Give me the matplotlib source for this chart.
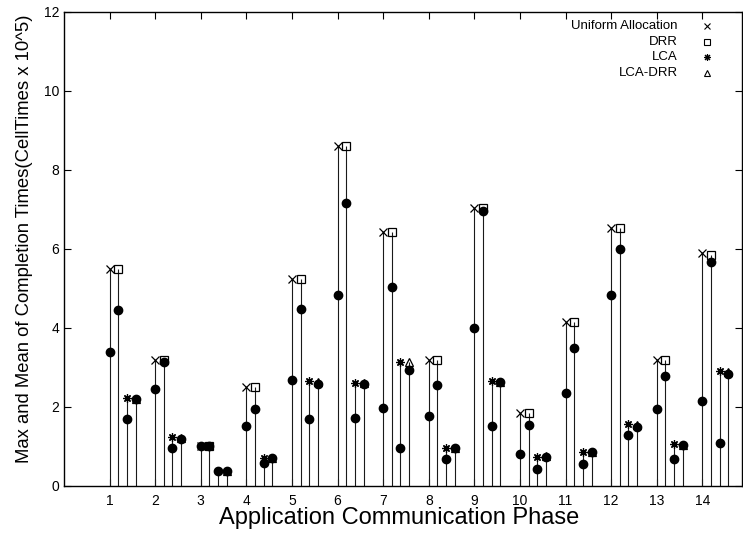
import matplotlib
matplotlib.use("Agg")
import matplotlib.pyplot as plt
import numpy as np

plt.rcParams["font.family"] = ["Liberation Sans", "DejaVu Sans"]

phases = np.arange(1, 15)
series = ["Uniform Allocation", "DRR", "LCA", "LCA-DRR"]

uniform_max = [5.50, 3.20, 1.00, 2.51, 5.25, 8.60, 6.42, 3.20, 7.05, 1.86, 4.16, 6.52, 3.20, 5.90]
uniform_mean = [3.40, 2.46, 1.00, 1.53, 2.68, 4.84, 1.97, 1.76, 4.00, 0.81, 2.36, 4.83, 1.95, 2.15]
drr_max = [5.50, 3.20, 1.00, 2.51, 5.25, 8.60, 6.42, 3.20, 7.05, 1.86, 4.16, 6.52, 3.20, 5.86]
drr_mean = [4.46, 3.15, 1.00, 1.96, 4.48, 7.16, 5.05, 2.56, 6.97, 1.55, 3.50, 5.99, 2.79, 5.68]
lca_max = [2.22, 1.23, 0.39, 0.72, 2.65, 2.62, 3.13, 0.95, 2.66, 0.74, 0.86, 1.56, 1.06, 2.90]
lca_mean = [1.69, 0.95, 0.38, 0.57, 1.69, 1.71, 0.95, 0.68, 1.52, 0.44, 0.55, 1.29, 0.68, 1.10]
lcadrr_max = [2.21, 1.21, 0.39, 0.72, 2.64, 2.60, 3.14, 0.96, 2.64, 0.75, 0.86, 1.55, 1.05, 2.88]
lcadrr_mean = [2.19, 1.18, 0.38, 0.71, 2.58, 2.58, 2.94, 0.96, 2.63, 0.74, 0.85, 1.49, 1.03, 2.83]

max_vals = [uniform_max, drr_max, lca_max, lcadrr_max]
mean_vals = [uniform_mean, drr_mean, lca_mean, lcadrr_mean]
markers = ["x", "s", (8, 2, 0), "^"]
offsets = [0.0, 0.19, 0.38, 0.57]

fig = plt.figure(figsize=(7.43, 5.33), dpi=100)
ax = fig.add_axes([0.0861, 0.0882, 0.9126, 0.8893])

for i, name in enumerate(series):
    x = phases + offsets[i]
    ax.vlines(x, 0, max_vals[i], color="#1a1a1a", linewidth=0.8)
    ax.plot(x, max_vals[i], linestyle="none", marker=markers[i], markersize=6,
            markerfacecolor="none", markeredgecolor="black", markeredgewidth=0.9)
    ax.plot(x, mean_vals[i], linestyle="none", marker="o", markersize=6,
            color="black")

# gnuplot-style key: right-aligned text, symbol at the right
for i, name in enumerate(series):
    ty = 0.970 - i * 0.033
    ax.text(0.905, ty, name, transform=ax.transAxes, ha="right", va="center",
            fontsize=9.5)
    ax.plot([0.948], [ty], transform=ax.transAxes, linestyle="none",
            marker=markers[i], markersize=5, markerfacecolor="none",
            markeredgecolor="black", markeredgewidth=0.8, clip_on=False)

ax.set_xlim(0, 14.87)
ax.set_ylim(0, 12)
ax.set_xticks(phases)
ax.set_yticks(np.arange(0, 13, 2))
ax.tick_params(direction="in", top=True, right=True, length=5, labelsize=10,
               width=0.8)
ax.tick_params(axis="x", pad=6)
for s in ax.spines.values():
    s.set_linewidth(1.0)

ax.set_xlabel("Application Communication Phase", fontsize=17)
ax.set_ylabel("Max and Mean of Completion Times(CellTimes x 10^5)", fontsize=13.3)
ax.xaxis.set_label_coords(0.494, -0.045, transform=ax.transAxes)
ax.yaxis.set_label_coords(-0.058, 0.522, transform=ax.transAxes)
ax.xaxis.label.set_va("top")
ax.yaxis.label.set_va("center")

fig.savefig("out.png", dpi=100)
